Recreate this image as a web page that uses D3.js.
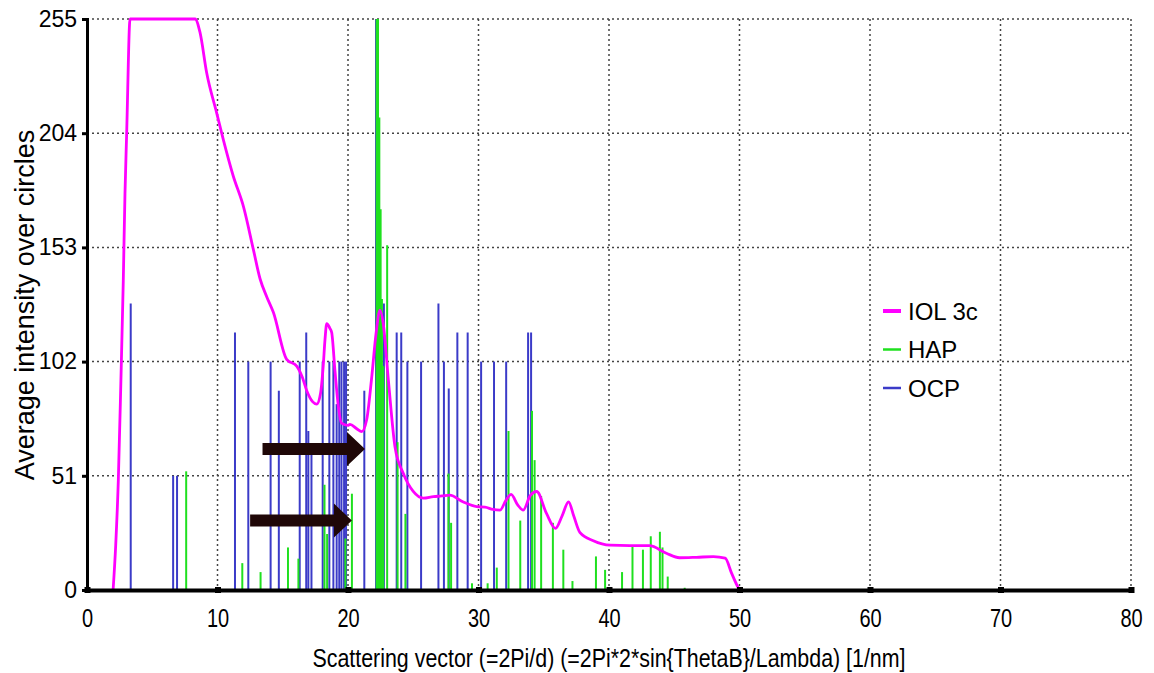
<!DOCTYPE html>
<html>
<head>
<meta charset="utf-8">
<script src="https://cdn.jsdelivr.net/npm/d3@7"></script>
<style>
  body { margin: 0; background: #fff; }
  svg { display: block; font-family: "Liberation Sans", Arial, sans-serif; }
</style>
</head>
<body>
<svg id="chart" width="1154" height="673"></svg>
<script>
// IOL 3c measured profile: scattering vector (1/nm) and intensity
const iolQ = [2.0, 2.2, 2.4, 2.6, 2.78, 2.91, 3.04, 3.3, 8.28, 8.66, 9.17, 9.94, 10.45, 11.2, 12.0, 12.75, 13.26, 13.77, 14.28, 15.3, 16.07, 16.5, 16.84, 17.3, 17.6, 17.9, 18.1, 18.24, 18.37, 18.6, 18.75, 19.0, 19.26, 19.5, 20.0, 20.15, 20.67, 21.05, 21.43, 21.8, 22.15, 22.45, 22.7, 23.09, 23.6, 24.24, 25.0, 25.77, 26.54, 27.2, 27.8, 28.8, 29.86, 30.5, 31.1, 31.65, 32.1, 32.5, 33.0, 33.43, 33.95, 34.46, 35.2, 35.9, 36.4, 36.9, 37.3, 37.78, 38.8, 40.08, 41.6, 43.1, 44.4, 45.4, 46.7, 48.0, 48.9, 49.4, 49.8, 50.0];
const iolI = [0, 20, 49, 94, 138, 177, 204, 255, 255, 249, 231, 213, 201, 185, 171, 152, 139, 131, 124, 103, 100, 95, 89, 84, 83, 88, 100, 112, 119, 117, 115, 98, 82, 74.5, 73.5, 74, 72, 70.7, 76, 94, 114.6, 125, 119, 94, 64, 52, 44, 41, 41.7, 42, 42.4, 39.4, 37.2, 37, 36, 35.7, 40, 42.7, 38, 35.7, 42, 44, 34.3, 27.5, 33, 39.4, 33, 25.6, 22, 20, 19.8, 19.8, 16.4, 14.4, 14.6, 14.9, 14.2, 7.4, 2.2, 0];

// HAP reference lines
const hapQ = [7.6, 11.9, 13.3, 15.4, 16.2, 18.2, 18.4, 19.8, 20.3, 22.2, 22.3, 22.4, 22.5, 22.6, 22.7, 23.0, 23.8, 24.4, 27.7, 27.9, 29.5, 30.7, 31.4, 32.3, 33.2, 34.1, 34.3, 34.8, 35.7, 36.5, 37.2, 39.0, 39.7, 41.0, 41.8, 42.6, 43.2, 43.9, 44.1, 44.5, 45.8];
const hapI = [53, 12, 8, 19, 14, 47, 25, 23, 43, 255, 255, 211, 170, 130, 100, 154, 66, 34, 52, 30, 3, 3, 10, 71, 31, 80, 58, 42, 30, 18, 4, 15, 9, 8, 20, 18, 24, 26, 19, 6, 1];

// OCP reference lines
const ocpQ = [3.35, 6.6, 6.9, 11.34, 12.36, 14.07, 14.7, 16.3, 16.8, 16.96, 17.2, 18.06, 18.57, 18.88, 19.13, 19.33, 19.5, 19.7, 19.85, 21.25, 22.15, 22.75, 23.73, 24.08, 24.55, 25.6, 26.93, 27.35, 27.72, 28.38, 29.17, 30.2, 31.19, 32.12, 33.8, 34.03];
const ocpI = [128, 51, 51, 115, 102, 102, 89, 102, 115, 71, 62, 102, 102, 102, 83, 102, 102, 102, 102, 89, 255, 128, 115, 115, 102, 102, 128, 102, 90, 115, 115, 102, 102, 102, 115, 115];

const xTicks = [0, 10, 20, 30, 40, 50, 60, 70, 80];
const yTicks = [0, 51, 102, 153, 204, 255];

// annotation arrows: [q start, q tip, intensity]
const arrowFrom = [13.45, 12.5];
const arrowTo = [21.3, 20.3];
const arrowAt = [63, 31];

const legendNames = ['IOL 3c', 'HAP', 'OCP'];
const colors = {iol: '#ff00ff', hap: '#1fe01f', ocp: '#3b3bc8'};

const svg = d3.select('#chart');
const margin = {top: 19, right: 23, bottom: 83, left: 87};
const width = +svg.attr('width') - margin.left - margin.right;
const height = +svg.attr('height') - margin.top - margin.bottom;

const g = svg.append('g')
  .attr('transform', 'translate(' + margin.left + ',' + margin.top + ')');

const x = d3.scaleLinear().domain([0, 80]).range([0, width]);
const y = d3.scaleLinear().domain([0, 255]).range([height, 0]);

// dotted grid
g.append('g')
  .selectAll('line')
  .data(xTicks.slice(1))
  .join('line')
  .attr('x1', d => x(d)).attr('x2', d => x(d))
  .attr('y1', 0).attr('y2', height)
  .attr('stroke', '#444').attr('stroke-width', 1.5)
  .attr('stroke-dasharray', '2,3');

g.append('g')
  .selectAll('line')
  .data(yTicks.slice(1))
  .join('line')
  .attr('x1', 0).attr('x2', width)
  .attr('y1', d => y(d)).attr('y2', d => y(d))
  .attr('stroke', '#444').attr('stroke-width', 1.5)
  .attr('stroke-dasharray', '2,3');

// OCP sticks
g.append('g')
  .selectAll('line')
  .data(ocpQ)
  .join('line')
  .attr('x1', d => x(d)).attr('x2', d => x(d))
  .attr('y1', y(0)).attr('y2', (d, i) => y(ocpI[i]))
  .attr('stroke', colors.ocp).attr('stroke-width', 2);

// HAP sticks
g.append('g')
  .selectAll('line')
  .data(hapQ)
  .join('line')
  .attr('x1', d => x(d)).attr('x2', d => x(d))
  .attr('y1', y(0)).attr('y2', (d, i) => y(hapI[i]))
  .attr('stroke', colors.hap).attr('stroke-width', 2);

// IOL curve
const line = d3.line()
  .x(d => x(d[0]))
  .y(d => y(d[1]))
  .curve(d3.curveMonotoneX);

g.append('path')
  .datum(iolQ.map((q, i) => [q, iolI[i]]))
  .attr('fill', 'none')
  .attr('stroke', colors.iol)
  .attr('stroke-width', 2.8)
  .attr('stroke-linejoin', 'round')
  .attr('d', line);

// arrows
arrowFrom.forEach((q0, i) => {
  const x0 = x(q0), x1 = x(arrowTo[i]), yc = y(arrowAt[i]);
  const headLen = 18, headHalf = 17, shaftHalf = 6;
  const pts = [
    [x0, yc - shaftHalf], [x1 - headLen, yc - shaftHalf], [x1 - headLen, yc - headHalf],
    [x1, yc], [x1 - headLen, yc + headHalf], [x1 - headLen, yc + shaftHalf], [x0, yc + shaftHalf]
  ];
  g.append('path')
    .attr('d', 'M' + pts.join('L') + 'Z')
    .attr('fill', '#1f0707');
});

// axes
const xAxis = g.append('g')
  .attr('transform', 'translate(0,' + height + ')')
  .call(d3.axisBottom(x).tickValues(xTicks).tickSize(0).tickPadding(19));
xAxis.select('.domain').attr('stroke', '#000').attr('stroke-width', 4);
xAxis.selectAll('.tick').append('rect')
  .attr('x', -3).attr('y', -3).attr('width', 6).attr('height', 6).attr('fill', '#000');
xAxis.selectAll('text').attr('font-size', 25).attr('fill', '#000')
  .attr('transform', 'scale(0.8,1)')
  .attr('font-family', '"Liberation Sans", Arial, sans-serif');

const yAxis = g.append('g')
  .call(d3.axisLeft(y).tickValues(yTicks).tickSize(5).tickPadding(5));
yAxis.select('.domain').attr('stroke', '#000').attr('stroke-width', 3);
yAxis.selectAll('.tick line').attr('stroke', '#000').attr('stroke-width', 3);
yAxis.selectAll('text').attr('font-size', 23).attr('fill', '#000')
  .attr('font-family', '"Liberation Sans", Arial, sans-serif');

// axis titles
svg.append('text')
  .attr('x', 609)
  .attr('y', 667)
  .attr('text-anchor', 'middle')
  .attr('font-size', 25)
  .attr('textLength', 593)
  .attr('lengthAdjust', 'spacingAndGlyphs')
  .text('Scattering vector (=2Pi/d) (=2Pi*2*sin{ThetaB}/Lambda) [1/nm]');

svg.append('text')
  .attr('transform', 'translate(34,' + 305 + ') rotate(-90)')
  .attr('text-anchor', 'middle')
  .attr('font-size', 27)
  .text('Average intensity over circles');

// legend
const legend = svg.append('g').attr('transform', 'translate(883,311)');
const legendColors = [colors.iol, colors.hap, colors.ocp];
legendNames.forEach((name, i) => {
  const row = legend.append('g').attr('transform', 'translate(0,' + (i * 38.5) + ')');
  row.append('line')
    .attr('x1', 0).attr('x2', 18)
    .attr('stroke', legendColors[i]).attr('stroke-width', i === 0 ? 4 : 2.5);
  row.append('text')
    .attr('x', 25).attr('dy', '0.36em')
    .attr('font-size', 24)
    .text(name);
});
</script>
</body>
</html>
